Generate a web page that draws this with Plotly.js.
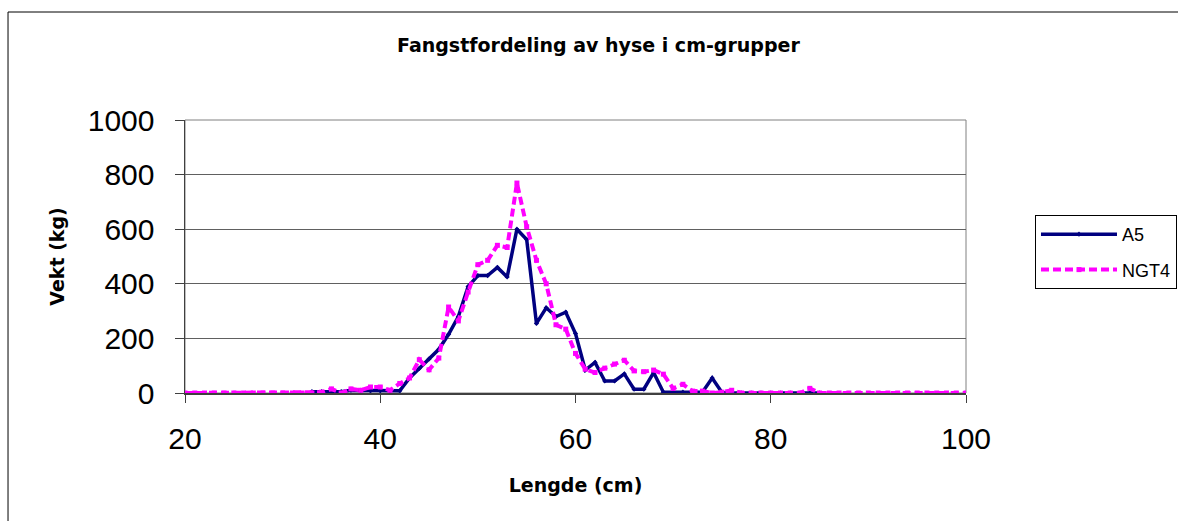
<!DOCTYPE html>
<html>
<head>
<meta charset="utf-8">
<script src="https://cdn.plot.ly/plotly-3.0.1.min.js"></script>
<style>html,body{margin:0;padding:0;background:#fff;}#chart{width:1178px;height:521px;}</style>
</head>
<body>
<div id="chart"></div>
<script>
// Length (cm) for each series
const lengthA5 = [33,34,35,36,37,38,39,40,41,42,43,44,45,46,47,48,49,50,51,52,53,54,55,56,57,58,59,60,61,62,63,64,65,66,67,68,69,70,71,72,73,74,75,76,77,78,79,80,81,82,83,84,85];
const weightA5 = [5,5,5,5,10,10,8,8,8,8,55,90,125,160,215,280,390,430,430,460,425,600,562,255,312,280,296,218,84,112,44,44,70,14,14,75,3,3,3,0,3,55,2,0,0,0,0,0,0,0,0,0,0];

const lengthNGT4 = [20,21,22,23,24,25,26,27,28,29,30,31,32,33,34,35,36,37,38,39,40,41,42,43,44,45,46,47,48,49,50,51,52,53,54,55,56,57,58,59,60,61,62,63,64,65,66,67,68,69,70,71,72,73,74,75,76,77,78,79,80,81,82,83,84,85,86,87,88,89,90,91,92,93,94,95,96,97,98,99,100];
const weightNGT4 = [0,0,0,0,0,0,0,0,0,0,0,0,0,0,3,15,0,15,10,22,22,10,35,55,122,85,128,315,264,370,470,486,541,533,769,609,486,400,250,234,145,87,75,91,106,120,81,78,84,69,17,32,7,7,0,3,10,0,0,0,0,0,0,0,17,0,0,0,0,0,0,0,0,0,0,0,0,0,0,0,0];

const seriesNames = ["A5", "NGT4"];
const chartTitle = "Fangstfordeling av hyse i cm-grupper";
const xTitle = "Lengde (cm)";
const yTitle = "Vekt (kg)";

const traces = [
  {
    x: lengthA5, y: weightA5, name: seriesNames[0], type: "scatter", mode: "lines+markers",
    line: {color: "#000080", width: 3.5},
    marker: {color: "#000080", symbol: "diamond", size: 4},
    legendgroup: "a"
  },
  {
    x: lengthNGT4, y: weightNGT4, name: seriesNames[1], type: "scatter", mode: "lines+markers",
    line: {color: "#FF00FF", width: 4, dash: "8px,4px"},
    marker: {color: "#FF00FF", symbol: "square", size: 5},
    legendgroup: "b"
  }
];

const tickFont = {family: "Liberation Sans, Arial, sans-serif", size: 30, color: "#000"};
const titleFont = {family: "DejaVu Sans, Verdana, sans-serif", size: 19, color: "#000", weight: "bold"};

const layout = {
  width: 1178, height: 521,
  margin: {l: 185, r: 212, t: 120, b: 128, pad: 0},
  paper_bgcolor: "#fff", plot_bgcolor: "#fff",
  title: {text: chartTitle, font: {family: "DejaVu Sans, Verdana, sans-serif", size: 19, color: "#000", weight: "bold"},
          x: 0.508, xanchor: "center", y: 0.913, yanchor: "middle"},
  xaxis: {
    range: [20, 100], tick0: 20, dtick: 20, showgrid: false, zeroline: false,
    showline: true, linecolor: "#404040", linewidth: 1.5,
    ticks: "outside", ticklen: 8, tickcolor: "#404040", tickwidth: 1,
    tickfont: tickFont, ticklabelstandoff: 10,
    title: {text: xTitle, font: titleFont, standoff: 25},
    automargin: false
  },
  yaxis: {
    range: [0, 1000], tick0: 0, dtick: 200, showgrid: true, gridcolor: "#606060", gridwidth: 1, zeroline: false,
    showline: true, linecolor: "#404040", linewidth: 1.5,
    ticks: "outside", ticklen: 9, tickcolor: "#404040", tickwidth: 1,
    tickfont: tickFont, ticklabelstandoff: 14,
    title: {text: yTitle, font: titleFont, standoff: 18},
    automargin: false
  },
  showlegend: true,
  legend: {
    xref: "container", yref: "container",
    x: 0.8786, xanchor: "left", y: 0.5873, yanchor: "top",
    bordercolor: "#000", borderwidth: 1, bgcolor: "#fff",
    font: {family: "Liberation Sans, Arial, sans-serif", size: 18, color: "#000"},
    itemwidth: 76, tracegroupgap: 9, traceorder: "grouped"
  },
  shapes: [
    {type: "rect", xref: "paper", yref: "paper", x0: 0, x1: 1, y0: 0, y1: 1,
     line: {color: "#808080", width: 1}, layer: "below"},
    {type: "rect", xref: "paper", yref: "paper", x0: -0.2266, x1: 1.35, y0: -0.6, y1: 1.3956,
     line: {color: "#000", width: 1}, layer: "below"}
  ]
};

Plotly.newPlot("chart", traces, layout, {displayModeBar: false, staticPlot: true});
</script>
</body>
</html>
